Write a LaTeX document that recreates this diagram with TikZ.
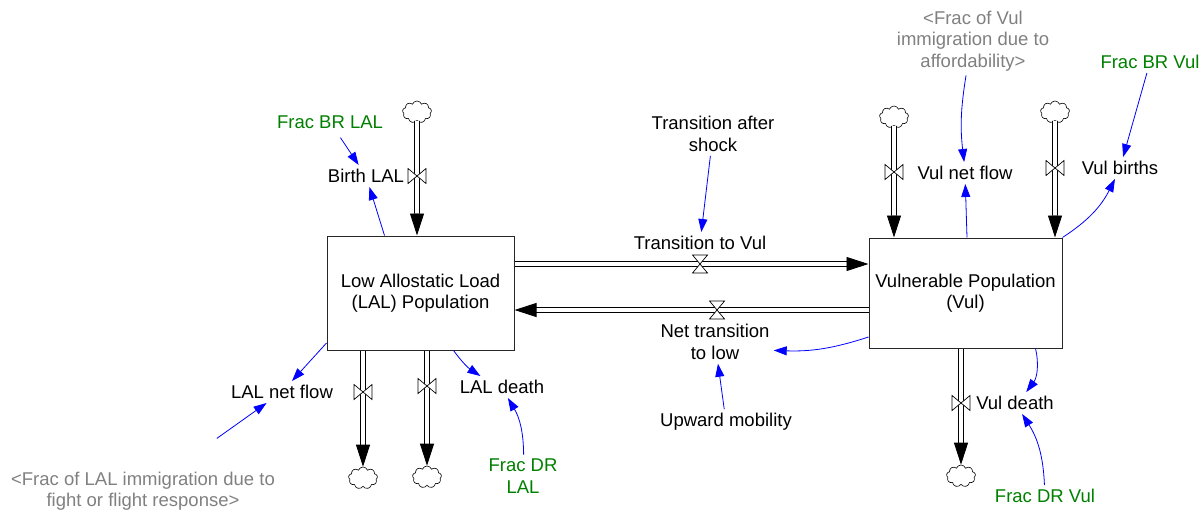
\documentclass[tikz,border=0pt]{standalone}
\usepackage{fontspec}
\setmainfont{Liberation Sans}
\usetikzlibrary{arrows.meta,shapes.symbols}
\definecolor{vgreen}{RGB}{0,128,0}
\definecolor{vgrey}{RGB}{128,128,128}
\tikzset{
  stock/.style={draw=black!85, line width=1pt, align=center},
  aux/.style={inner sep=4pt, align=center},
  link/.style={blue, line width=0.8pt, -{Triangle[length=13pt,width=9pt]}},
  pipe/.style={double, double distance=3.8pt, line width=0.9pt, -{Triangle[length=22pt,width=14pt]}},
  cloudy/.style={draw, cloud, cloud puffs=9, cloud puff arc=140, aspect=1.3, minimum width=29pt, minimum height=22pt, inner sep=0pt, line width=0.6pt},
  valvev/.pic={\draw[fill=white, line width=0.7pt] (-9,-7.5) -- (9,7.5) -- (9,-7.5) -- (-9,7.5) -- cycle;},
  valveh/.pic={\draw[fill=white, line width=0.7pt] (-7.5,-9) -- (7.5,9) -- (-7.5,9) -- (7.5,-9) -- cycle;}
}

\begin{document}
\begin{tikzpicture}[x=1pt, y=-1pt, every node/.style={font=\fontsize{18.5}{21.5}\selectfont}]
\useasboundingbox (0,0) rectangle (1204,514);
% Stocks:
\node (lal) [stock, minimum width=187pt, minimum height=114pt] at (420.5,293) {Low Allostatic Load\\(LAL) Population};
\node (vul) [stock, minimum width=193pt, minimum height=110pt] at (965.5,293) {Vulnerable Population\\(Vul)};
% Clouds:
\node (c1) [cloudy] at (417,112) {};
\node (c2) [cloudy] at (363,478) {};
\node (c3) [cloudy] at (427,477) {};
\node (c4) [cloudy] at (894,117) {};
\node (c5) [cloudy] at (1055,112) {};
\node (c6) [cloudy] at (961,476) {};
\coordinate (v4) at (700,264);
\coordinate (v5) at (717,310);
% Flows:
\draw[pipe] (c1) -- (c1 |- lal.north);
\draw[pipe] (lal.south -| c2) -- (c2);
\draw[pipe] (lal.south -| c3) -- (c3);
\draw[pipe] (lal.east |- v4) -- (vul.west |- v4);
\draw[pipe] (vul.west |- v5) -- (lal.east |- v5);
\draw[pipe] (c4) -- (c4 |- vul.north);
\draw[pipe] (c5) -- (c5 |- vul.north);
\draw[pipe] (vul.south -| c6) -- (c6);
\pic at (417,176) {valvev};
\pic at (363,392) {valvev};
\pic at (427,386) {valvev};
\pic at (v4) {valveh};
\pic at (v5) {valveh};
\pic at (894,172) {valvev};
\pic at (1055,168) {valvev};
\pic at (961,403) {valvev};
% Variables:
\node (birth) [aux] at (366,176) {Birth LAL};
\node (fracbrlal) [aux, vgreen] at (330,122) {Frac BR LAL};
\node (lalnet) [aux] at (282,392) {LAL net flow};
\node (fracimlal) [aux, vgrey] at (143,491) {<Frac of LAL immigration due to\\fight or flight response>};
\node (laldeath) [aux] at (502,387) {LAL death};
\node (fracdrlal) [aux, vgreen] at (523,476) {Frac DR\\LAL};
\node (trafter) [aux] at (713,134) {Transition after\\shock};
\node (trvul) [aux] at (700,243) {Transition to Vul};
\node (nettr) [aux] at (715,342) {Net transition\\to low};
\node (upmob) [aux] at (726,422) {Upward mobility};
\node (vulnet) [aux] at (965,173) {Vul net flow};
\node (fracimvul) [aux, vgrey] at (973,41) {<Frac of Vul\\immigration due to\\affordability>};
\node (vulbirth) [aux] at (1120,168) {Vul births};
\node (fracbrvul) [aux, vgreen] at (1150,62) {Frac BR Vul};
\node (vuldeath) [aux] at (1015,403) {Vul death};
\node (fracdrvul) [aux, vgreen] at (1045,496) {Frac DR Vul};
% Links:
\draw[link, shorten <=6pt] (fracbrlal) -- (birth);
\draw[link] ([xshift=-36pt]lal.north) -- (birth);
\draw[link] ([yshift=-50pt]lal.west) -- (lalnet);
\draw[link, shorten <=50pt] (fracimlal) -- (lalnet);
\draw[link] ([xshift=33pt]lal.south) to[bend right=10] (laldeath);
\draw[link] (fracdrlal) to[bend right=15] (laldeath);
\draw[link] (trafter) -- (trvul);
\draw[link] ([yshift=-44pt]vul.west) to[bend left=10] (nettr);
\draw[link] (upmob) -- (nettr);
\draw[link] (fracimvul) to[bend right=8] (vulnet);
\draw[link] ([xshift=1.5pt]vul.north) -- (vulnet);
\draw[link] (fracbrvul) -- (vulbirth);
\draw[link] (vul.north east) to[bend right=15] (vulbirth);
\draw[link] ([xshift=70pt]vul.south) to[bend left=25] (vuldeath);
\draw[link] (fracdrvul) to[bend right=15] (vuldeath);
\end{tikzpicture}
\end{document}
